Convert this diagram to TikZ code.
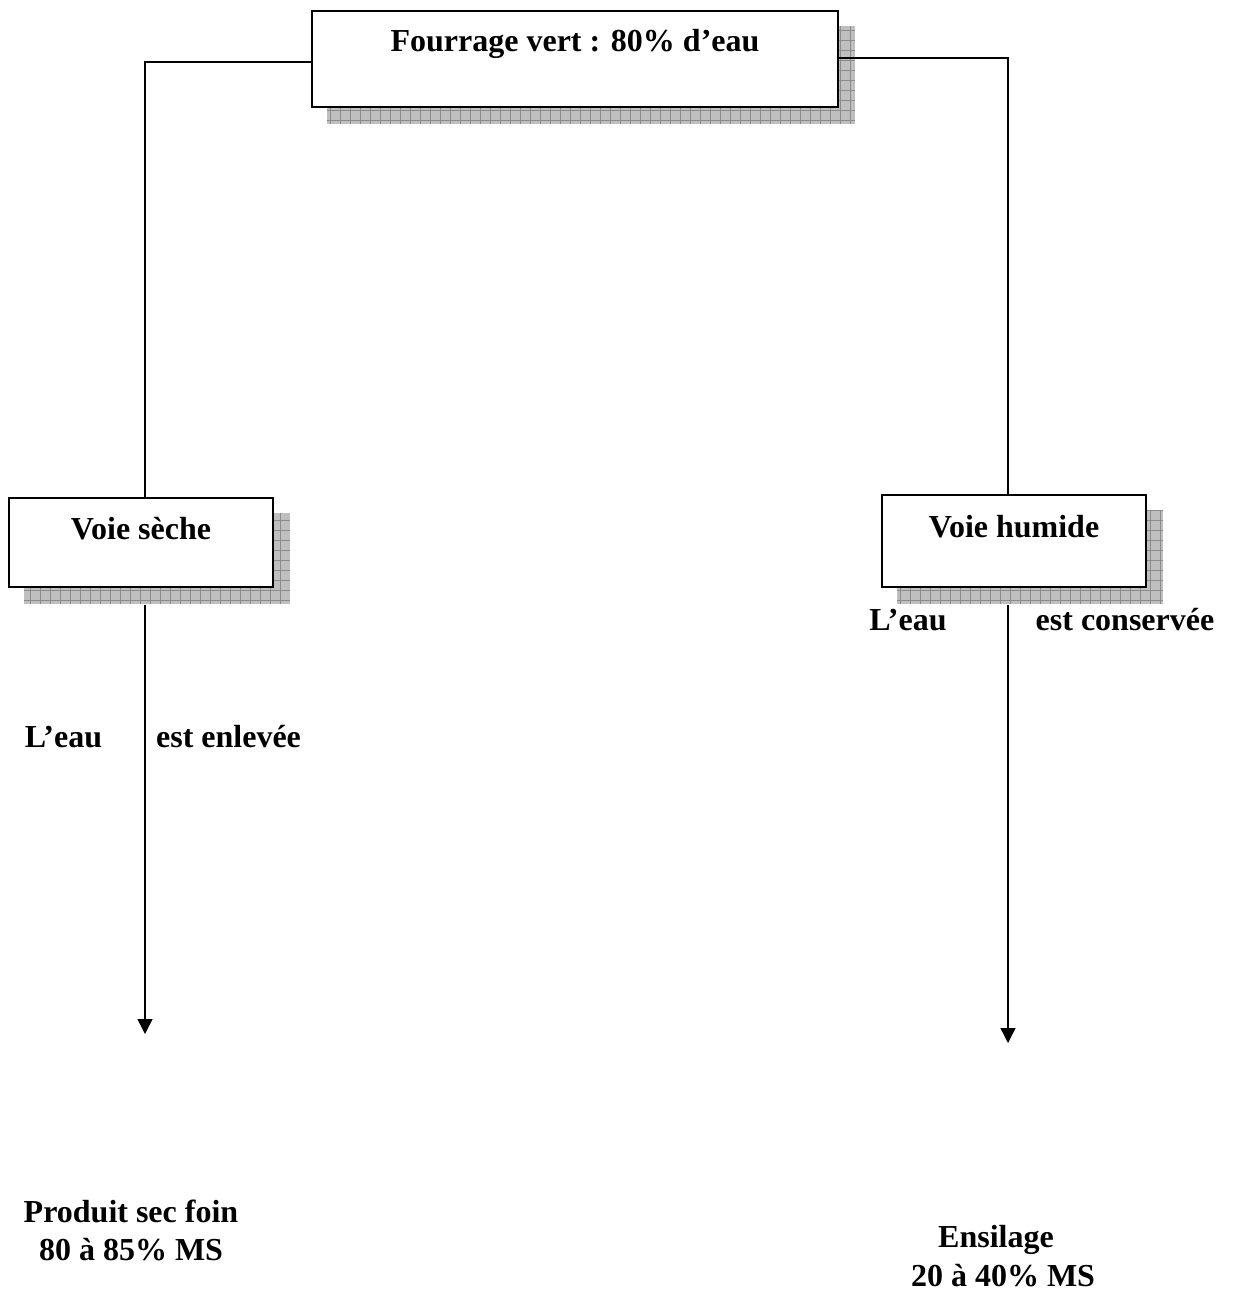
\documentclass[tikz,border=0pt]{standalone}
\usepackage{fontspec}
\setmainfont{Liberation Serif}
\usetikzlibrary{arrows.meta,backgrounds,calc}
\newcommand\txtfont{\fontsize{32}{38}\selectfont\bfseries}
\begin{document}
\begin{tikzpicture}[x=1pt,y=-1pt,
  box/.style={draw,line width=1.6pt,fill=white,inner sep=0pt,font=\txtfont},
  lbl/.style={inner sep=0pt,anchor=base,font=\txtfont},
  conn/.style={line width=1.4pt},
  arr/.style={conn,-{Triangle[width=15pt,length=15pt]}}]
\useasboundingbox (0,0) rectangle (1233,1293);

\node[box, minimum width=526pt, text height=40pt, text depth=56pt] (top) at (575,59) {Fourrage vert : 80\% d’eau};
\node[box, minimum width=264pt, text height=41pt, text depth=48pt] (sec) at (141,542.5) {Voie sèche};
\node[box, minimum width=264pt, text height=42pt, text depth=50pt] (hum) at (1014,541) {Voie humide};

\begin{scope}[on background layer]
  \foreach \n in {top,sec,hum}{
    \fill[black!25] ($(\n.north west)+(16,16)$) rectangle ($(\n.south east)+(16,16)$);
    \begin{scope}
      \clip ($(\n.north west)+(16,16)$) rectangle ($(\n.south east)+(16,16)$);
      \draw[black!45, line width=0.8pt, xstep=10pt, ystep=10pt] ($(\n.north west)+(6,6)$) grid ($(\n.south east)+(26,26)$);
    \end{scope}
  }
\end{scope}

\coordinate (lc) at (145,62);
\coordinate (rc) at (1008,58);
\coordinate (le) at (145,1034);
\coordinate (re) at (1008,1043);
\draw[conn] ($(top.west)+(0,3)$) -- (lc) -- (lc |- sec.north);
\draw[conn] ($(top.east)+(0,-1)$) -- (rc) -- (rc |- hum.north);
\draw[arr] ($(le |- sec.south)+(0,17)$) -- (le);
\draw[arr] ($(re |- hum.south)+(0,17)$) -- (re);

\node[lbl] (l1) at (63.5,747) {L’eau};
\node[lbl] (l2) at (228.5,747) {est enlevée};
\node[lbl] (r1) at (908,630) {L’eau};
\node[lbl] (r2) at (1125,630) {est conservée};
\node[lbl] (p1) at (131,1222) {Produit sec foin};
\node[lbl] (p2) at (131,1260) {80 à 85\% MS};
\node[lbl] (e1) at (996,1247) {Ensilage};
\node[lbl] (e2) at (1003,1286) {20 à 40\% MS};
\end{tikzpicture}
\end{document}
